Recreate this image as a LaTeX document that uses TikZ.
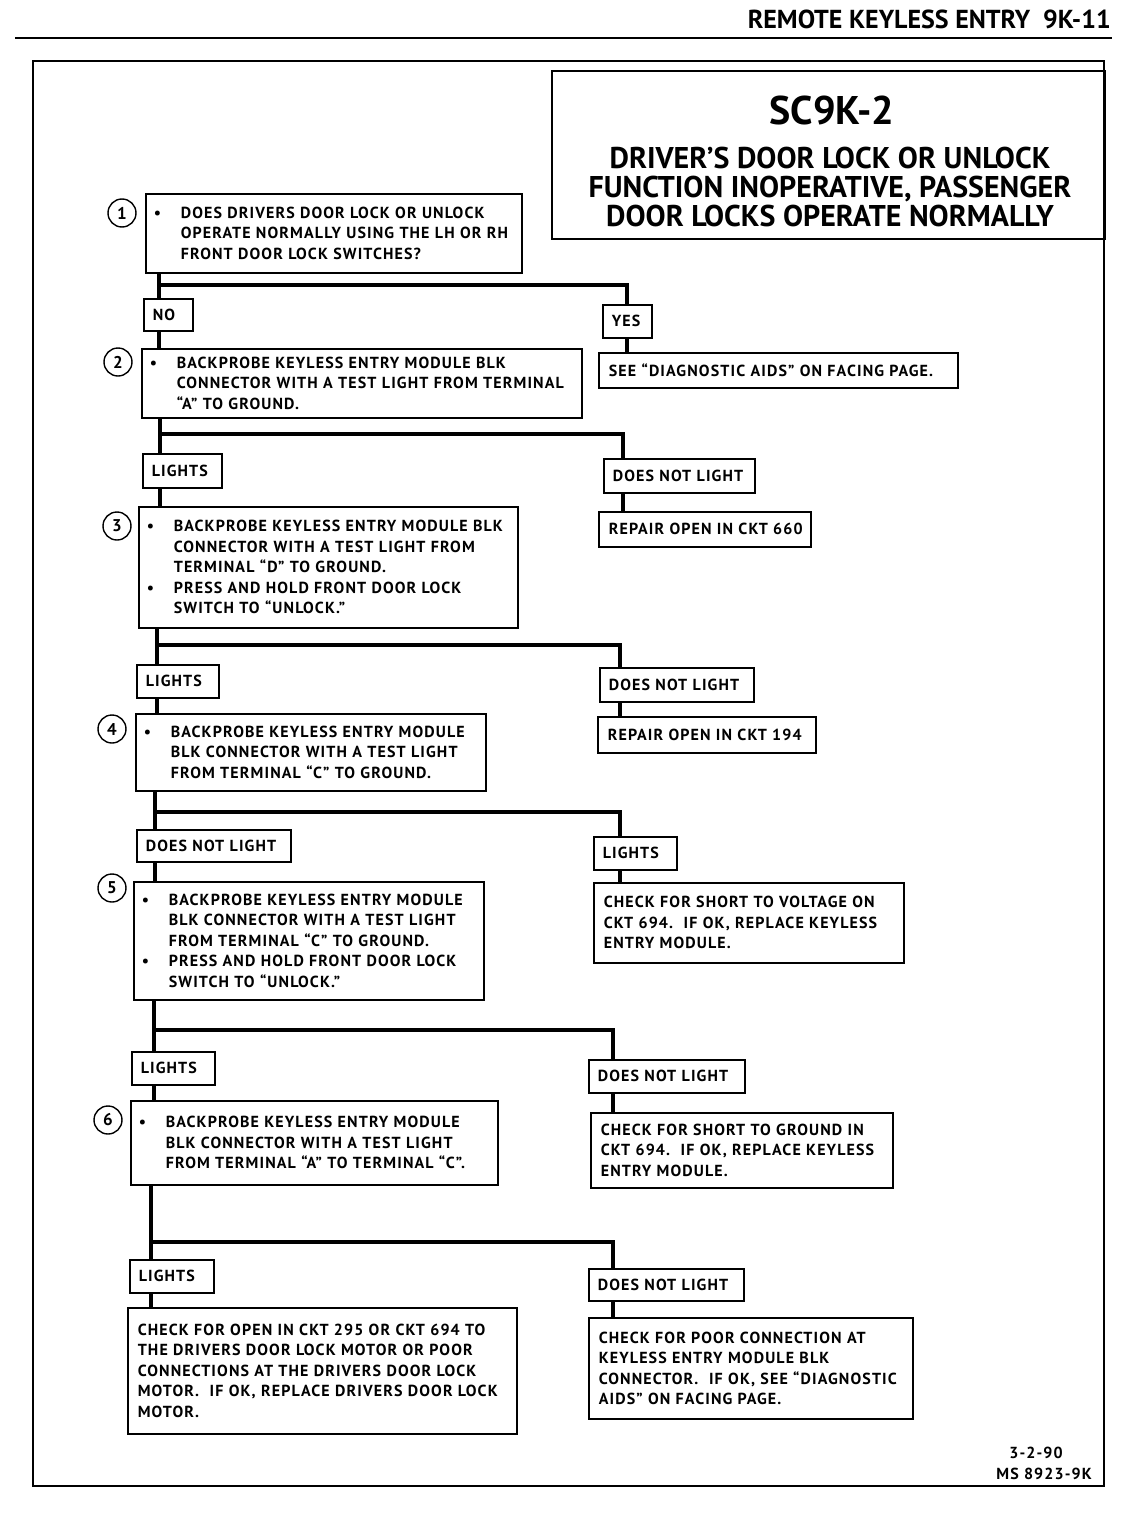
\documentclass[tikz,border=0pt]{standalone}
\usepackage{fontspec}
\setmainfont{PT Sans}
\newfontfamily\bxfam{PT Sans}[LetterSpace=7]
\newcommand\bxf{\bxfam\fontsize{16}{20.5}\selectfont\bfseries}
\newcommand\bl[1]{\mbox{\makebox[27pt][l]{\textbullet}#1}}
\newcommand\il[1]{\mbox{\hspace*{27pt}#1}}
\newcommand\pl[1]{\mbox{#1}}
\tikzset{
  stepbox/.style={draw, line width=1.6pt, anchor=north west, inner xsep=8pt, inner ysep=0pt, align=left, font=\bxf},
  txtbox/.style={draw, line width=1.6pt, anchor=north west, inner xsep=10pt, inner ysep=0pt, align=left, font=\bxf},
  lblbox/.style={draw, line width=1.6pt, anchor=north west, inner xsep=9pt, inner ysep=0pt, align=left, font=\bxf},
  trunk/.style={line width=4.5pt, line join=miter},
  num/.style={draw, circle, line width=1.4pt, minimum size=28pt, inner sep=0pt, font=\fontsize{17}{17}\selectfont\bfseries},
}
\begin{document}
\begin{tikzpicture}[x=1pt,y=-1pt]
\useasboundingbox (0,0) rectangle (1120,1520);
% header
\node[anchor=base east, inner sep=0pt, font=\fontsize{26}{26}\selectfont\bfseries] (hdr) at (1111,29) {REMOTE KEYLESS ENTRY\enspace 9K-11};
\draw[line width=2pt] (15,38) -- (1112,38);
% frame
\draw[line width=2.5pt] (33,61) rectangle (1104,1486);
% title box
\node[draw, line width=1.6pt, anchor=north west, minimum width=553pt, minimum height=168pt, inner sep=0pt] (tb) at (551,70) {};
\node[inner sep=0pt, font=\fontsize{40}{40}\selectfont\bfseries] (ttl) at (832,110) {SC9K-2};
\node[inner sep=0pt, align=center, font=\fontsize{30}{29}\selectfont\bfseries] (sub) at (830,187) {DRIVER’S DOOR LOCK OR UNLOCK\\FUNCTION INOPERATIVE, PASSENGER\\DOOR LOCKS OPERATE NORMALLY};

% numbers
\node[num] (c1) at (122,213) {1};
\node[num] (c2) at (118,362) {2};
\node[num] (c3) at (117,526) {3};
\node[num] (c4) at (112,729) {4};
\node[num] (c5) at (112,888) {5};
\node[num] (c6) at (108,1120) {6};

% step boxes
\node[stepbox, text width=360pt, minimum height=79pt] (b1) at (145,193)
 {\bl{DOES DRIVERS DOOR LOCK OR UNLOCK}\\\il{OPERATE NORMALLY USING THE LH OR RH}\\\il{FRONT DOOR LOCK SWITCHES?}};
\node[stepbox, text width=424pt, minimum height=69pt] (b2) at (141,348)
 {\bl{BACKPROBE KEYLESS ENTRY MODULE BLK}\\\il{CONNECTOR WITH A TEST LIGHT FROM TERMINAL}\\\il{“A” TO GROUND.}};
\node[stepbox, text width=363pt, minimum height=121pt] (b3) at (138,506)
 {\bl{BACKPROBE KEYLESS ENTRY MODULE BLK}\\\il{CONNECTOR WITH A TEST LIGHT FROM}\\\il{TERMINAL “D” TO GROUND.}\\\bl{PRESS AND HOLD FRONT DOOR LOCK}\\\il{SWITCH TO “UNLOCK.”}};
\node[stepbox, text width=334pt, minimum height=77pt] (b4) at (135,713)
 {\bl{BACKPROBE KEYLESS ENTRY MODULE}\\\il{BLK CONNECTOR WITH A TEST LIGHT}\\\il{FROM TERMINAL “C” TO GROUND.}};
\node[stepbox, text width=334pt, minimum height=118pt] (b5) at (133,881)
 {\bl{BACKPROBE KEYLESS ENTRY MODULE}\\\il{BLK CONNECTOR WITH A TEST LIGHT}\\\il{FROM TERMINAL “C” TO GROUND.}\\\bl{PRESS AND HOLD FRONT DOOR LOCK}\\\il{SWITCH TO “UNLOCK.”}};
\node[stepbox, text width=351pt, minimum height=84pt] (b6) at (130,1100)
 {\bl{BACKPROBE KEYLESS ENTRY MODULE}\\\il{BLK CONNECTOR WITH A TEST LIGHT}\\\il{FROM TERMINAL “A” TO TERMINAL “C”.}};

% result boxes
\node[txtbox, text width=339pt, minimum height=35pt] (see) at (598,352) {\pl{SEE “DIAGNOSTIC AIDS” ON FACING PAGE.}};
\node[txtbox, text width=192pt, minimum height=35pt] (r660) at (598,511) {\pl{REPAIR OPEN IN CKT 660}};
\node[txtbox, text width=198pt, minimum height=36pt] (r194) at (597,716) {\pl{REPAIR OPEN IN CKT 194}};
\node[txtbox, text width=290pt, minimum height=80pt] (chkv) at (593,882)
 {\pl{CHECK FOR SHORT TO VOLTAGE ON}\\\pl{CKT 694.\ \ IF OK, REPLACE KEYLESS}\\\pl{ENTRY MODULE.}};
\node[txtbox, text width=282pt, minimum height=75pt] (chkg) at (590,1112)
 {\pl{CHECK FOR SHORT TO GROUND IN}\\\pl{CKT 694.\ \ IF OK, REPLACE KEYLESS}\\\pl{ENTRY MODULE.}};
\node[txtbox, text width=304pt, minimum height=101pt] (fr) at (588,1317)
 {\pl{CHECK FOR POOR CONNECTION AT}\\\pl{KEYLESS ENTRY MODULE BLK}\\\pl{CONNECTOR.\ \ IF OK, SEE “DIAGNOSTIC}\\\pl{AIDS” ON FACING PAGE.}};
\node[txtbox, text width=369pt, minimum height=126pt] (fl) at (127,1307)
 {\pl{CHECK FOR OPEN IN CKT 295 OR CKT 694 TO}\\\pl{THE DRIVERS DOOR LOCK MOTOR OR POOR}\\\pl{CONNECTIONS AT THE DRIVERS DOOR LOCK}\\\pl{MOTOR.\ \ IF OK, REPLACE DRIVERS DOOR LOCK}\\\pl{MOTOR.}};

% labels
\node[lblbox, text width=31pt, minimum height=32pt] (no) at (143,298) {\pl{NO}};
\node[lblbox, text width=31pt, minimum height=33pt] (yes) at (602,304) {\pl{YES}};
\node[lblbox, text width=61pt, minimum height=34pt] (lt1) at (142,453) {\pl{LIGHTS}};
\node[lblbox, text width=133pt, minimum height=34pt] (dnl1) at (603,458) {\pl{DOES NOT LIGHT}};
\node[lblbox, text width=64pt, minimum height=33pt] (lt2) at (136,664) {\pl{LIGHTS}};
\node[lblbox, text width=136pt, minimum height=34pt] (dnl2) at (599,667) {\pl{DOES NOT LIGHT}};
\node[lblbox, text width=136pt, minimum height=32pt] (dnl3) at (136,829) {\pl{DOES NOT LIGHT}};
\node[lblbox, text width=65pt, minimum height=33pt] (lt3) at (593,836) {\pl{LIGHTS}};
\node[lblbox, text width=65pt, minimum height=33pt] (lt4) at (131,1051) {\pl{LIGHTS}};
\node[lblbox, text width=138pt, minimum height=33pt] (dnl4) at (588,1059) {\pl{DOES NOT LIGHT}};
\node[lblbox, text width=66pt, minimum height=33pt] (lt5) at (129,1259) {\pl{LIGHTS}};
\node[lblbox, text width=137pt, minimum height=32pt] (dnl5) at (588,1268) {\pl{DOES NOT LIGHT}};

% junction coordinates
\coordinate (j1) at (159,285);  \coordinate (k1) at (627,285);
\coordinate (j2) at (160,434);  \coordinate (k2) at (623,434);
\coordinate (j3) at (157,645);  \coordinate (k3) at (620,645);
\coordinate (j4) at (155,812);  \coordinate (k4) at (620,812);
\coordinate (j5) at (154,1030); \coordinate (k5) at (613,1030);
\coordinate (j6) at (151,1242); \coordinate (k6) at (613,1242);

% stage 1
\draw[trunk] (b1.south -| j1) -- (no.north -| j1);
\draw[trunk] (no.south -| j1) -- (b2.north -| j1);
\draw[trunk] (j1) -- (k1) -- (yes.north -| k1);
\draw[trunk] (yes.south -| k1) -- (see.north -| k1);
% stage 2
\draw[trunk] (b2.south -| j2) -- (lt1.north -| j2);
\draw[trunk] (lt1.south -| j2) -- (b3.north -| j2);
\draw[trunk] (j2) -- (k2) -- (dnl1.north -| k2);
\draw[trunk] (dnl1.south -| k2) -- (r660.north -| k2);
% stage 3
\draw[trunk] (b3.south -| j3) -- (lt2.north -| j3);
\draw[trunk] (lt2.south -| j3) -- (b4.north -| j3);
\draw[trunk] (j3) -- (k3) -- (dnl2.north -| k3);
\draw[trunk] (dnl2.south -| k3) -- (r194.north -| k3);
% stage 4
\draw[trunk] (b4.south -| j4) -- (dnl3.north -| j4);
\draw[trunk] (dnl3.south -| j4) -- (b5.north -| j4);
\draw[trunk] (j4) -- (k4) -- (lt3.north -| k4);
\draw[trunk] (lt3.south -| k4) -- (chkv.north -| k4);
% stage 5
\draw[trunk] (b5.south -| j5) -- (lt4.north -| j5);
\draw[trunk] (lt4.south -| j5) -- (b6.north -| j5);
\draw[trunk] (j5) -- (k5) -- (dnl4.north -| k5);
\draw[trunk] (dnl4.south -| k5) -- (chkg.north -| k5);
% stage 6
\draw[trunk] (b6.south -| j6) -- (lt5.north -| j6);
\draw[trunk] (lt5.south -| j6) -- (fl.north -| j6);
\draw[trunk] (j6) -- (k6) -- (dnl5.north -| k6);
\draw[trunk] (dnl5.south -| k6) -- (fr.north -| k6);

% date
\node[anchor=base, inner sep=0pt, font=\bxfam\fontsize{16}{16}\selectfont\bfseries] (dt) at (1036,1458) {3-2-90};
\node[anchor=base east, inner sep=0pt, font=\bxfam\fontsize{16}{16}\selectfont\bfseries] (ms) at (1092,1479) {MS 8923-9K};
\end{tikzpicture}
\end{document}
